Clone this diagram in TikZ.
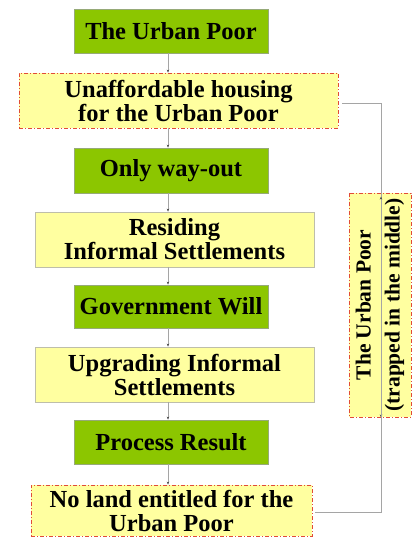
\documentclass[tikz,border=0pt]{standalone}
\usepackage{fontspec}
\setmainfont{Liberation Serif}
\usetikzlibrary{arrows.meta}
\definecolor{grn}{RGB}{140,198,0}
\definecolor{grnb}{RGB}{150,170,120}
\definecolor{ylw}{RGB}{255,255,160}
\definecolor{ylwb}{RGB}{190,190,170}
\definecolor{redb}{RGB}{225,75,55}
\definecolor{conn}{RGB}{165,165,165}
\begin{document}
\begin{tikzpicture}[x=1pt,y=-1pt,
  boxbase/.style={rectangle, inner sep=0pt, align=center, line width=0.8pt,
    font=\bfseries\fontsize{24.5}{24}\selectfont},
  greenbox/.style={boxbase, draw=grnb, fill=grn},
  yellowbox/.style={boxbase, draw=ylwb, fill=ylw},
  dashbox/.style={boxbase, draw=redb, fill=ylw, dash pattern=on 4pt off 2pt on 1pt off 2pt},
  conn/.style={draw=conn, line width=1pt, -{Stealth[length=3pt,width=2.5pt,black!70]}}
]
\useasboundingbox (0,0) rectangle (412,537);
\fill[white] (0,0) rectangle (412,537);

\node[greenbox, minimum width=194pt, minimum height=44pt] (b1) at (171,31) {The Urban Poor};
\node[dashbox, minimum width=319pt, minimum height=55pt] (b2) at (178.5,100.5) {Unaffordable housing\\for the Urban Poor};
\node[greenbox, minimum width=194pt, minimum height=45pt] (b3) at (171,170.5) {Only way-out};
\node[yellowbox, minimum width=279pt, minimum height=55pt] (b4) at (174.5,239.5) {Residing\\Informal Settlements};
\node[greenbox, minimum width=194pt, minimum height=43pt] (b5) at (171,306.5) {Government Will};
\node[yellowbox, minimum width=279pt, minimum height=55pt] (b6) at (174.5,374.5) {Upgrading Informal\\Settlements};
\node[greenbox, minimum width=194pt, minimum height=44pt] (b7) at (171,442) {Process Result};
\node[dashbox, minimum width=281pt, minimum height=51pt] (b8) at (171.5,510.5) {No land entitled for the\\Urban Poor};

\node[dashbox, rotate=90, minimum width=224pt, minimum height=62pt,
  font=\bfseries\fontsize{21.5}{29}\selectfont] (rb) at (380,305)
  {The Urban Poor\\(trapped in the middle)};

\draw[conn] ([xshift=-3pt]b1.south) -- ([xshift=-3pt]b1.south |- b2.north);
\draw[conn] ([xshift=-3pt]b1.south |- b2.south) -- ([xshift=-3pt]b1.south |- b3.north);
\draw[conn] ([xshift=-3pt]b3.south) -- ([xshift=-3pt]b3.south |- b4.north);
\draw[conn] ([xshift=-3pt]b3.south |- b4.south) -- ([xshift=-3pt]b5.north);
\draw[conn] ([xshift=-3pt]b5.south) -- ([xshift=-3pt]b5.south |- b6.north);
\draw[conn] ([xshift=-3pt]b5.south |- b6.south) -- ([xshift=-3pt]b7.north);
\draw[conn] ([xshift=-3pt]b7.south) -- ([xshift=-3pt]b7.south |- b8.north);

\draw[conn] ([xshift=4pt,yshift=-3.5pt]b2.east) -| ([xshift=1pt]rb.west);
\draw[conn, shorten >=4pt] ([xshift=3pt,yshift=-2pt]b8.east) -| ([xshift=1pt]rb.east);
\end{tikzpicture}
\end{document}
